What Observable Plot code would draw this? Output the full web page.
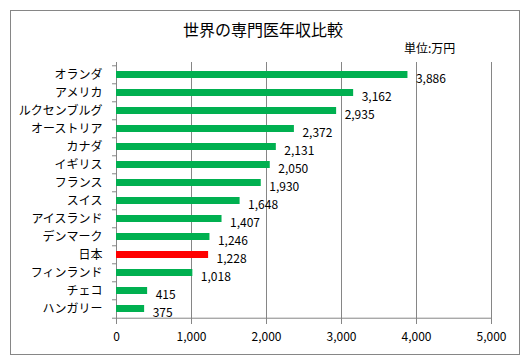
<!DOCTYPE html>
<html>
<head>
<meta charset="utf-8">
<script src="https://cdn.jsdelivr.net/npm/d3@7"></script>
<script src="https://cdn.jsdelivr.net/npm/@observablehq/plot@0.6"></script>
<style>
  html, body { margin: 0; padding: 0; background: #fff; }
  #wrap { position: relative; width: 530px; height: 364px; font-family: "Noto Sans CJK JP", sans-serif; }
  #box { position: absolute; left: 10px; top: 10px; width: 510px; height: 345px; border: 1px solid #868686; box-sizing: border-box; }
  #title { position: absolute; left: 0; width: 526px; top: 17px; text-align: center; font-size: 16px; color: #000; }
  #unit { position: absolute; left: 404px; top: 39px; font-size: 12px; color: #000; }
  #chart { position: absolute; left: 0; top: 0; }
</style>
</head>
<body>
<div id="wrap">
  <div id="box"></div>
  <div id="chart"></div>
  <div id="title">世界の専門医年収比較</div>
  <div id="unit">単位:万円</div>
</div>
<script>
const countries = ["オランダ","アメリカ","ルクセンブルグ","オーストリア","カナダ","イギリス","フランス","スイス","アイスランド","デンマーク","日本","フィンランド","チェコ","ハンガリー"];
const values = [3886, 3162, 2935, 2372, 2131, 2050, 1930, 1648, 1407, 1246, 1228, 1018, 415, 375];
const highlight = "日本";
const xTicks = [0, 1000, 2000, 3000, 4000, 5000];

const data = countries.map((c, i) => ({country: c, value: values[i]}));
const W = 530, H = 364, mT = 62, mB = 44, mL = 116, mR = 39;
const step = (H - mT - mB) / countries.length;
const gray = "#868686";
const fmt = d3.format(",");

const chart = Plot.plot({
  width: W,
  height: H,
  marginTop: mT,
  marginBottom: mB,
  marginLeft: mL,
  marginRight: mR,
  style: {fontFamily: "'Noto Sans CJK JP', sans-serif", fontSize: "12px", color: "#000", background: "transparent", overflow: "visible"},
  x: {domain: [0, 5000]},
  y: {domain: countries, paddingInner: 0.62, paddingOuter: 0.31},
  marks: [
    Plot.ruleX(xTicks, {stroke: gray, strokeOpacity: 1}),
    Plot.ruleY(countries, {y: d => d, x1: 0, x2: 0, dy: -step / 2, insetLeft: -4, stroke: gray}),
    Plot.ruleY([countries[countries.length - 1]], {y: d => d, x1: 0, x2: 5000, dy: step / 2, insetLeft: -4, stroke: gray}),
    Plot.barX(data, {x: "value", y: "country", fill: d => d.country === highlight ? "#ff0000" : "#00b050"}),
    Plot.text(data, {x: "value", y: "country", text: d => fmt(d.value), textAnchor: "start", dx: 8, dy: 4, fill: "#000", fontSize: 12}),
    Plot.axisX(xTicks, {tickSize: 4, tickPadding: 8, tickFormat: fmt, stroke: gray, color: "#000", label: null, fontSize: 12}),
    Plot.axisY({tickSize: 0, tickPadding: 14, label: null, fontSize: 12, color: "#000"})
  ]
});
document.getElementById("chart").appendChild(chart);
</script>
</body>
</html>
